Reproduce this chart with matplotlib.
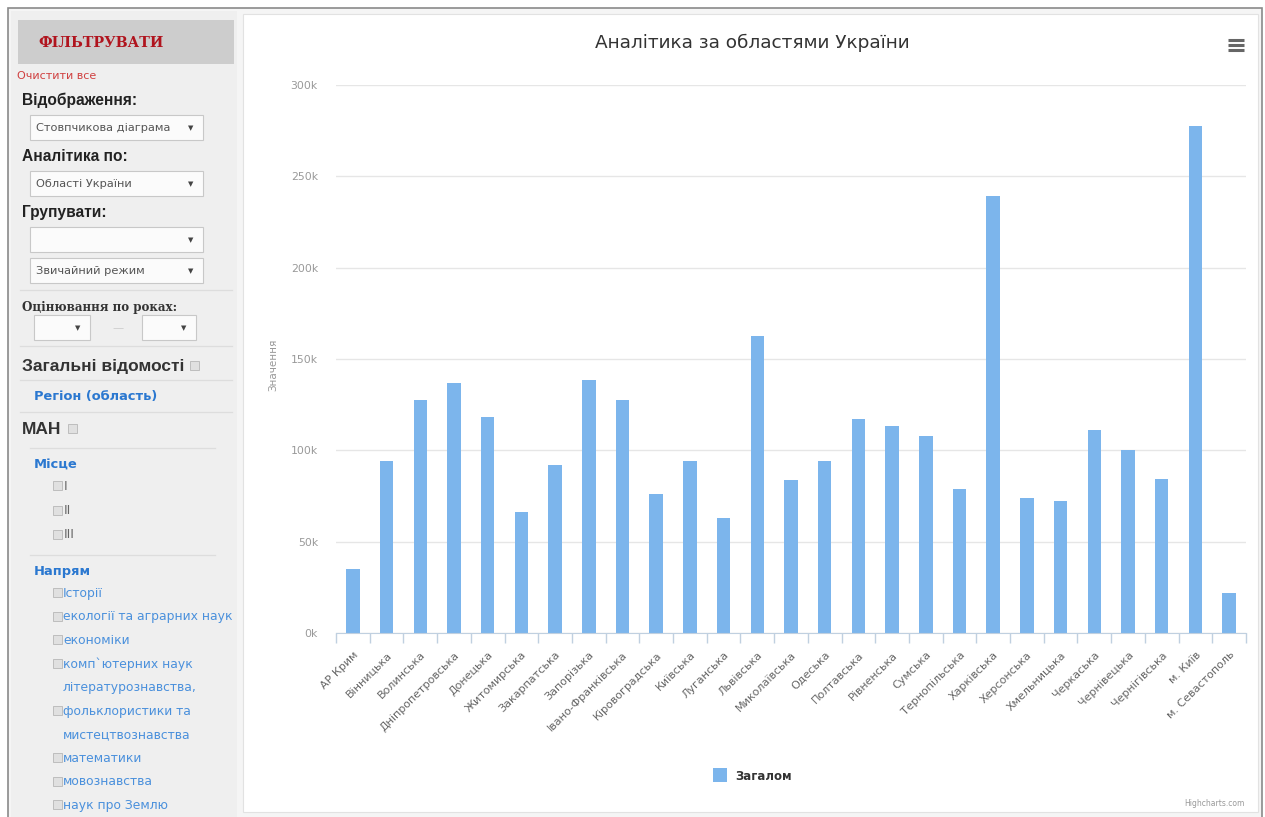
import matplotlib.pyplot as plt
from matplotlib.patches import Rectangle
from matplotlib.ticker import FuncFormatter, FixedLocator

# Values per region (thousands)
regions = ['АР Крим', 'Вінницька', 'Волинська', 'Дніпропетровська', 'Донецька',
           'Житомирська', 'Закарпатська', 'Запорізька', 'Івано-Франківська',
           'Кіровоградська', 'Київська', 'Луганська', 'Львівська', 'Миколаївська',
           'Одеська', 'Полтавська', 'Рівненська', 'Сумська', 'Тернопільська',
           'Харківська', 'Херсонська', 'Хмельницька', 'Черкаська', 'Чернівецька',
           'Чернігівська', 'м. Київ', 'м. Севастополь']
totals_k = [35, 94, 127.5, 137, 118, 66, 92, 138.5, 127.5, 76, 94, 63, 162.5, 84,
            94, 117, 113.5, 108, 79, 239.5, 74, 72, 111, 100, 84.5, 277.5, 22]
y_ticks_k = [0, 50, 100, 150, 200, 250, 300]

# Sidebar contents
dropdowns = [('Відображення:', 'Стовпчикова діаграма'),
             ('Аналітика по:', 'Області України'),
             ('Групувати:', '')]
places = ['I', 'II', 'III']
directions = [('Історії', True), ('екології та аграрних наук', True),
              ('економіки', True), ('комп`ютерних наук', True),
              ('літературознавства,', False), ('фольклористики та', True),
              ('мистецтвознавства', False), ('математики', True),
              ('мовознавства', True), ('наук про Землю', True)]

W, H = 1265, 817
fig = plt.figure(figsize=(W / 100, H / 100), dpi=100, facecolor='white')

# page layer in pixel coordinates
ui = fig.add_axes([0, 0, 1, 1], zorder=0)
ui.set_xlim(0, W)
ui.set_ylim(H, 0)
ui.axis('off')

SANS = 'Liberation Sans'
SMALL = 'DejaVu Sans'
BLUE = '#2b78d0'
LBLUE = '#4a90dc'

ui.add_patch(Rectangle((8, 8), 1254, 820, fc='#f5f5f5', ec='#8a8a8a', lw=1.2))
ui.add_patch(Rectangle((11, 11), 226, 810, fc='#efefef', ec='none'))
ui.add_patch(Rectangle((243, 14), 1015, 798, fc='white', ec='#e2e2e2', lw=0.8))

# filter header
ui.add_patch(Rectangle((18, 20), 216, 44, fc='#cdcdcd', ec='none'))
ui.text(38, 43, 'ФІЛЬТРУВАТИ', color='#b0141e', fontsize=10.3, fontweight='bold',
        family='DejaVu Serif', va='center')
ui.text(17, 76, 'Очистити все', color='#d04040', fontsize=8, family=SMALL, va='center')


def dropdown(x, y, w, text):
    ui.add_patch(Rectangle((x, y), w, 25, fc='#fbfbfb', ec='#c8c8c8', lw=0.8))
    ui.text(x + 6, y + 13, text, color='#555555', fontsize=8.2, family=SMALL, va='center')
    ui.text(x + w - 12, y + 13, '▼', color='#444444', fontsize=5, va='center', ha='center')


def checkbox(x, y):
    ui.add_patch(Rectangle((x, y - 5), 9, 9, fc='#e0e0e0', ec='#bdbdbd', lw=0.7))


def separator(y, x0=20, x1=232):
    ui.plot([x0, x1], [y, y], color='#dddddd', lw=0.9)


y = 100
for label, value in dropdowns:
    ui.text(22, y, label, color='#222222', fontsize=11.2, fontweight='bold',
            family=SANS, va='center')
    dropdown(30, y + 15, 173, value)
    y += 56
dropdown(30, 258, 173, 'Звичайний режим')
separator(290)

ui.text(22, 307, 'Оцінювання по роках:', color='#333333', fontsize=8.6,
        fontweight='bold', family='DejaVu Serif', va='center')
dropdown(34, 315, 56, '')
ui.text(118, 328, '—', color='#cccccc', fontsize=8, ha='center', va='center')
dropdown(142, 315, 54, '')
separator(346)

ui.text(22, 366, 'Загальні відомості', color='#333333', fontsize=12.5,
        fontweight='bold', family=SANS, va='center')
checkbox(190, 366)
separator(380)
ui.text(34, 396, 'Регіон (область)', color=BLUE, fontsize=9.4, fontweight='bold',
        family=SMALL, va='center')
separator(412)
ui.text(22, 429, 'МАН', color='#333333', fontsize=12.5, fontweight='bold',
        family=SANS, va='center')
checkbox(68, 429)
separator(448, 30, 215)
ui.text(34, 465, 'Місце', color=BLUE, fontsize=9.4, fontweight='bold',
        family=SMALL, va='center')
for i, p in enumerate(places):
    yy = 486 + i * 24.5
    checkbox(53, yy)
    ui.text(64, yy, p, color='#666666', fontsize=9, family=SMALL, va='center')
separator(555, 30, 215)
ui.text(34, 571, 'Напрям', color=BLUE, fontsize=9.4, fontweight='bold',
        family=SMALL, va='center')
for i, (d, box) in enumerate(directions):
    yy = 593 + i * 23.6
    if box:
        checkbox(53, yy)
    ui.text(63, yy, d, color=LBLUE, fontsize=8.9, family=SMALL, va='center')

# chart title, menu, legend, credits
ui.text(752, 43, 'Аналітика за областями України', color='#333333', fontsize=13.3,
        family='DejaVu Sans', ha='center', va='center')
for dy in (-5, 0, 5):
    ui.plot([1228, 1244], [45 + dy, 45 + dy], color='#666666', lw=2.2,
            solid_capstyle='butt')
ui.add_patch(Rectangle((713, 768), 14, 14, fc='#7cb5ec', ec='none'))
ui.text(735, 776, 'Загалом', color='#333333', fontsize=8.5, fontweight='bold',
        family='DejaVu Sans', va='center')
ui.text(1245, 803, 'Highcharts.com', color='#999999', fontsize=5.5, ha='right',
        va='center', family='DejaVu Sans')
ui.text(273, 365, 'Значення', color='#999999', fontsize=7.5, rotation=90,
        ha='center', va='center', family='DejaVu Sans')

# column chart
x0, x1 = 336, 1246
y_base, y_top = 633, 85
ax = fig.add_axes([x0 / W, (H - y_base) / H, (x1 - x0) / W, (y_base - y_top) / H],
                  zorder=1)
ax.patch.set_alpha(0)
pos = list(range(len(regions)))
ax.bar(pos, totals_k, width=0.4, color='#7cb5ec', zorder=2)
ax.set_xlim(-0.5, len(regions) - 0.5)
ax.set_ylim(0, 300)
ax.set_yticks(y_ticks_k)
ax.yaxis.set_major_formatter(FuncFormatter(lambda v, _: f'{v:.0f}k'))
ax.grid(axis='y', color='#e6e6e6', lw=1, zorder=0)
ax.tick_params(axis='y', length=0, pad=13, labelsize=7.8, labelcolor='#999999')
for s in ('left', 'right', 'top'):
    ax.spines[s].set_visible(False)
ax.spines['bottom'].set_color('#c0d0e0')
ax.set_xticks(pos)
ax.set_xticklabels(regions, rotation=45, ha='right', rotation_mode='anchor',
                   fontsize=8, color='#666666', family='DejaVu Sans')
ax.tick_params(axis='x', which='major', length=0, pad=12)
ax.xaxis.set_minor_locator(FixedLocator([p - 0.5 for p in pos] + [len(pos) - 0.5]))
ax.tick_params(axis='x', which='minor', length=7, color='#c0d0e0', width=1)

fig.savefig('out.png', dpi=100, facecolor='white')
